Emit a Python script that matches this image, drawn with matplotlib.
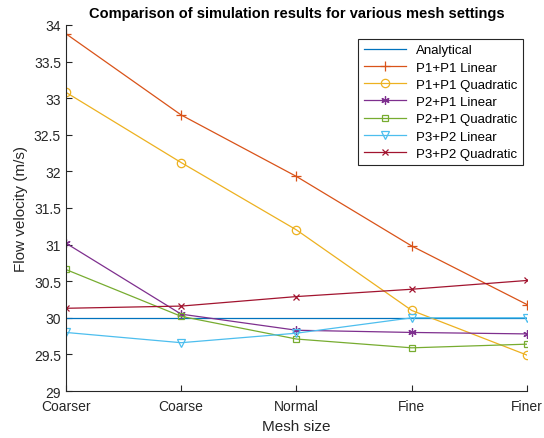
import matplotlib
matplotlib.use("Agg")
import matplotlib.pyplot as plt

plt.rcParams["font.family"] = ["Liberation Sans", "DejaVu Sans"]

mesh_sizes = ["Coarser", "Coarse", "Normal", "Fine", "Finer"]
analytical = [30.0, 30.0, 30.0, 30.0, 30.0]
p1p1_linear = [33.88, 32.77, 31.93, 30.98, 30.18]
p1p1_quadratic = [33.08, 32.12, 31.20, 30.10, 29.49]
p2p1_linear = [31.02, 30.05, 29.83, 29.80, 29.78]
p2p1_quadratic = [30.66, 30.02, 29.71, 29.59, 29.64]
p3p2_linear = [29.80, 29.66, 29.79, 30.00, 30.00]
p3p2_quadratic = [30.13, 30.16, 30.29, 30.39, 30.51]

series = [
    ("Analytical", analytical, "#0072BD", None, 6),
    ("P1+P1 Linear", p1p1_linear, "#D95319", "+", 7),
    ("P1+P1 Quadratic", p1p1_quadratic, "#EDB120", "o", 6),
    ("P2+P1 Linear", p2p1_linear, "#7E2F8E", (6, 2, 0), 6),
    ("P2+P1 Quadratic", p2p1_quadratic, "#77AC30", "s", 5),
    ("P3+P2 Linear", p3p2_linear, "#4DBEEE", "v", 6),
    ("P3+P2 Quadratic", p3p2_quadratic, "#A2142F", "x", 5),
]

fig = plt.figure(figsize=(5.44, 4.39), dpi=100)
ax = fig.add_axes([0.121, 0.107, 0.848, 0.834])

x = range(len(mesh_sizes))
for label, vals, color, marker, ms in series:
    ax.plot(x, vals, color=color, marker=marker, markersize=ms, linewidth=0.9,
            markerfacecolor="none", markeredgecolor=color, markeredgewidth=0.9,
            label=label)

ax.set_xlim(0, 4)
ax.set_ylim(29, 34)
ax.set_xticks(list(x))
ax.set_xticklabels(mesh_sizes)
ax.set_yticks([29, 29.5, 30, 30.5, 31, 31.5, 32, 32.5, 33, 33.5, 34])
ax.set_yticklabels(["29", "29.5", "30", "30.5", "31", "31.5", "32", "32.5", "33", "33.5", "34"])
ax.tick_params(direction="in", labelsize=10, colors="#262626", length=4)
ax.tick_params(axis="x", pad=6)
for s in ["top", "right"]:
    ax.spines[s].set_visible(False)
for s in ["left", "bottom"]:
    ax.spines[s].set_color("#262626")
    ax.spines[s].set_linewidth(0.8)

ax.set_xlabel("Mesh size", fontsize=11, color="#262626")
ax.set_ylabel("Flow velocity (m/s)", fontsize=11, color="#262626")
ax.set_title("Comparison of simulation results for various mesh settings",
             fontsize=10.5, fontweight="bold")

leg = ax.legend(loc="upper right", bbox_to_anchor=(0.991, 0.962), borderaxespad=0,
                fontsize=9.5, fancybox=False, edgecolor="#262626", framealpha=1,
                numpoints=1, handlelength=3.2, borderpad=0.4, labelspacing=0.38)
leg.get_frame().set_linewidth(0.8)

fig.savefig("out.png", dpi=100)
